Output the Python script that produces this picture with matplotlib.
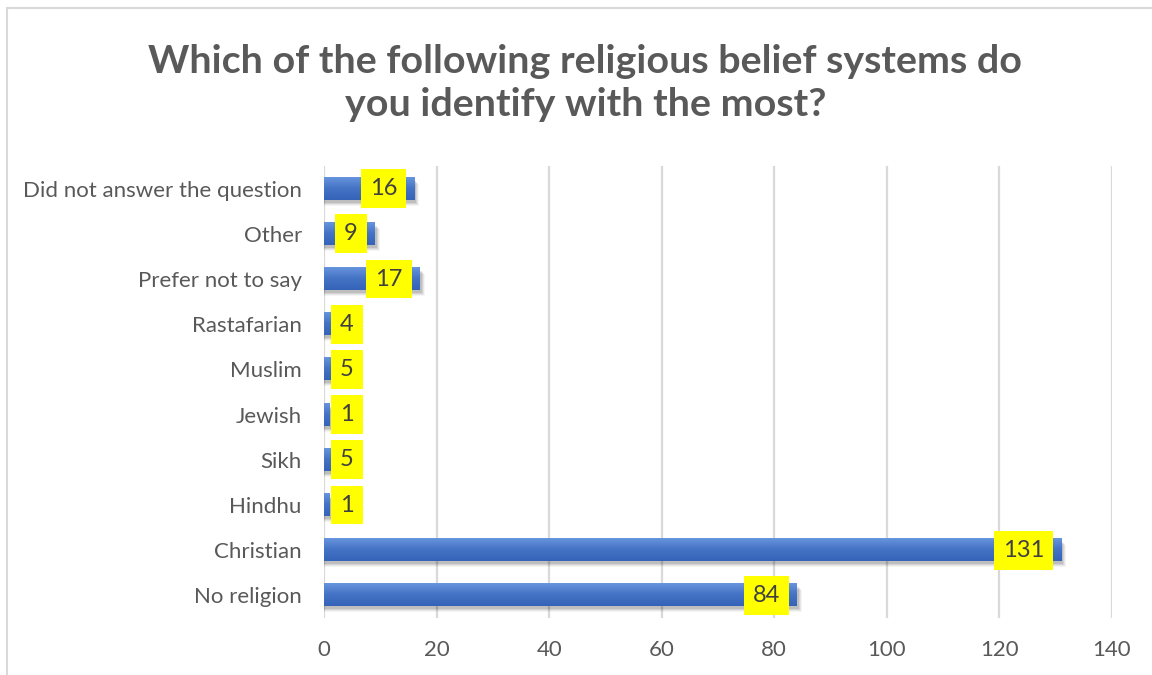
import numpy as np
import matplotlib.pyplot as plt
from matplotlib.patches import Rectangle
from matplotlib.colors import LinearSegmentedColormap

categories = ["No religion", "Christian", "Hindhu", "Sikh", "Jewish", "Muslim",
              "Rastafarian", "Prefer not to say", "Other", "Did not answer the question"]
counts = [84, 131, 1, 5, 1, 5, 4, 17, 9, 16]
x_ticks = [0, 20, 40, 60, 80, 100, 120, 140]
title = "Which of the following religious belief systems do\nyou identify with the most?"

plt.rcParams['font.family'] = ['Lato', 'DejaVu Sans']
text_grey = '#595959'
grid_grey = '#d9d9d9'

fig = plt.figure(figsize=(11.52, 6.75), dpi=100)
fig.patch.set_facecolor('white')

# outer chart frame (only left and top edges fall inside the image)
fig.add_artist(Rectangle((7 / 1152, -0.1), 1.2, 1.1 - 8 / 675, transform=fig.transFigure,
                         fill=False, edgecolor=grid_grey, linewidth=1.5))

fig.text(0.508, 1 - 83 / 675, title, ha='center', va='center', fontsize=28.4,
         fontweight='bold', color=text_grey, linespacing=1.3)

ax = fig.add_axes([324 / 1152, 1 - 618 / 675, 788 / 1152, 452 / 675])
ax.set_xlim(0, 140)
ax.set_ylim(-0.5, len(categories) - 0.5)

bar_h = 0.49
grad = np.linspace(0, 1, 64).reshape(-1, 1)
bar_cmap = LinearSegmentedColormap.from_list('bar', ['#6795dd', '#4472c4', '#3563b8'])

px_x = 140 / 788.0   # data units per pixel in x
px_y = len(categories) / 452.0
for i, v in enumerate(counts):
    # soft drop shadow
    for k, a in enumerate([0.10, 0.08, 0.06, 0.04]):
        off = 1 + k
        ax.add_patch(Rectangle((0, i - bar_h / 2 - (2 + off) * px_y), v + (1 + off) * px_x,
                               bar_h, facecolor='black', alpha=a, edgecolor='none', zorder=2))
    ax.imshow(grad, cmap=bar_cmap, aspect='auto', origin='upper',
              extent=(0, v, i - bar_h / 2, i + bar_h / 2), zorder=3)

# data labels on yellow boxes
fs = 17
pad = 0.38
pad_px = pad * fs * 100 / 72
for i, v in enumerate(counts):
    label = str(v)
    box_w = 2 * pad_px + 13 * len(label)
    end_px = v / px_x
    box = dict(boxstyle=f'square,pad={pad}', facecolor='#ffff00', edgecolor='none')
    if end_px - 8 - box_w >= 7:
        ax.annotate(label, (v, i), xytext=(-8 - pad_px, 0), textcoords='offset pixels',
                    ha='right', va='center', fontsize=fs, color='#404040', zorder=5, bbox=box)
    else:
        ax.annotate(label, (0, i), xytext=(7 + pad_px, 0), textcoords='offset pixels',
                    ha='left', va='center', fontsize=fs, color='#404040', zorder=5, bbox=box)

ax.set_yticks(range(len(categories)))
ax.set_yticklabels(categories)
ax.set_xticks(x_ticks)
ax.tick_params(axis='y', length=0, pad=16, labelsize=16, labelcolor=text_grey)
ax.tick_params(axis='x', length=0, pad=16, labelsize=16, labelcolor=text_grey)
for s in ax.spines.values():
    s.set_visible(False)
ax.grid(axis='x', color=grid_grey, linewidth=1.6)
ax.set_axisbelow(True)

fig.savefig('out.png', dpi=100)
